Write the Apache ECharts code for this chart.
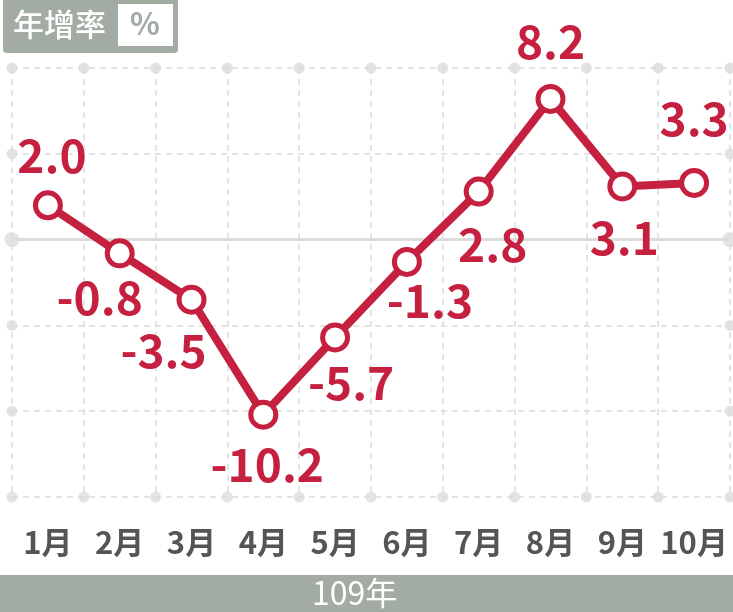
<!DOCTYPE html>
<html>
<head>
<meta charset="utf-8">
<script src="https://cdn.jsdelivr.net/npm/echarts@6/dist/echarts.min.js"></script>
<style>
  html, body { margin: 0; padding: 0; background: #fff; }
  #main { width: 733px; height: 612px; }
</style>
</head>
<body>
<div id="main"></div>
<script>
var months = ['1月', '2月', '3月', '4月', '5月', '6月', '7月', '8月', '9月', '10月'];
var growth = [2.0, -0.8, -3.5, -10.2, -5.7, -1.3, 2.8, 8.2, 3.1, 3.3];
var yTicks = [-15, -10, -5, 0, 5, 10];
var yearLabel = '109年';

// where each value label sits relative to its point
var labelOffset = [[4, -50], [-20, 44], [-28, 51], [4, 50], [16, 45], [23, 39], [14, 53], [0, -57], [2, 51], [0, -64]];

var red = '#c5203f';
var gridGray = '#dcdcdc';
var font = '"Noto Sans CJK TC", "Noto Sans", sans-serif';

// dots around the border of the plot area
var borderDots = [];
for (var i = 0; i <= months.length; i++) {
  borderDots.push([i, yTicks[0]]);
  borderDots.push([i, yTicks[yTicks.length - 1]]);
}
for (var j = 1; j < yTicks.length - 1; j++) {
  borderDots.push({ value: [0, yTicks[j]], symbolSize: yTicks[j] === 0 ? 15 : 11 });
  borderDots.push({ value: [months.length, yTicks[j]], symbolSize: yTicks[j] === 0 ? 15 : 11 });
}

var lineData = growth.map(function (v, i) {
  return {
    value: v,
    label: { offset: labelOffset[i] }
  };
});

var option = {
  animation: false,
  grid: { left: 12, right: 3, top: 68, bottom: 115 },
  xAxis: [
    {
      type: 'category',
      data: months,
      boundaryGap: true,
      axisLine: { show: false },
      axisTick: { show: false },
      axisLabel: {
        interval: 0,
        color: '#555',
        fontSize: 31,
        fontWeight: 'bold',
        fontFamily: font,
        margin: 30
      },
      splitLine: { show: true, interval: 0, lineStyle: { color: gridGray, type: [6, 5], width: 1.5 } }
    },
    {
      type: 'value',
      min: 0,
      max: months.length,
      show: false
    }
  ],
  yAxis: {
    type: 'value',
    min: -15,
    max: 10,
    interval: 5,
    axisLine: { show: false },
    axisTick: { show: false },
    axisLabel: { show: false },
    splitLine: { lineStyle: { color: gridGray, type: [6, 5], width: 1.5 } }
  },
  series: [
    {
      type: 'scatter',
      xAxisIndex: 1,
      data: borderDots,
      symbolSize: 11,
      itemStyle: { color: gridGray },
      silent: true,
      z: 1,
      markLine: {
        silent: true,
        symbol: 'none',
        label: { show: false },
        lineStyle: { color: gridGray, type: 'solid', width: 3 },
        data: [{ yAxis: 0 }]
      }
    },
    {
      type: 'line',
      data: lineData,
      symbol: 'circle',
      symbolSize: 25,
      lineStyle: { color: red, width: 8 },
      itemStyle: { color: '#fff', borderColor: red, borderWidth: 5 },
      label: {
        show: true,
        position: 'inside',
        color: red,
        fontSize: 46,
        fontWeight: 'bold',
        fontFamily: font,
        formatter: function (p) { return p.value.toFixed(1); }
      },
      z: 5
    }
  ],
  graphic: [
    {
      type: 'rect',
      left: 3, top: 0,
      shape: { width: 175, height: 53, r: [0, 0, 4, 4] },
      style: { fill: '#a3aca3' }
    },
    {
      type: 'rect',
      left: 118, top: 4,
      shape: { width: 55, height: 42 },
      style: { fill: '#fff' }
    },
    {
      type: 'text',
      left: 13, top: 9,
      style: { text: '年增率', fill: '#fff', font: '500 31px ' + font }
    },
    {
      type: 'text',
      left: 130, top: 8,
      style: { text: '%', fill: '#a3aca3', font: 'bold 31px ' + font }
    },
    {
      type: 'rect',
      left: 0, top: 575,
      shape: { width: 733, height: 37 },
      style: { fill: '#a3aca3' }
    },
    {
      type: 'text',
      left: 312, top: 577,
      style: { text: yearLabel, fill: '#fff', font: '32px ' + font }
    }
  ]
};

var chart = echarts.init(document.getElementById('main'));
chart.setOption(option);
</script>
</body>
</html>
